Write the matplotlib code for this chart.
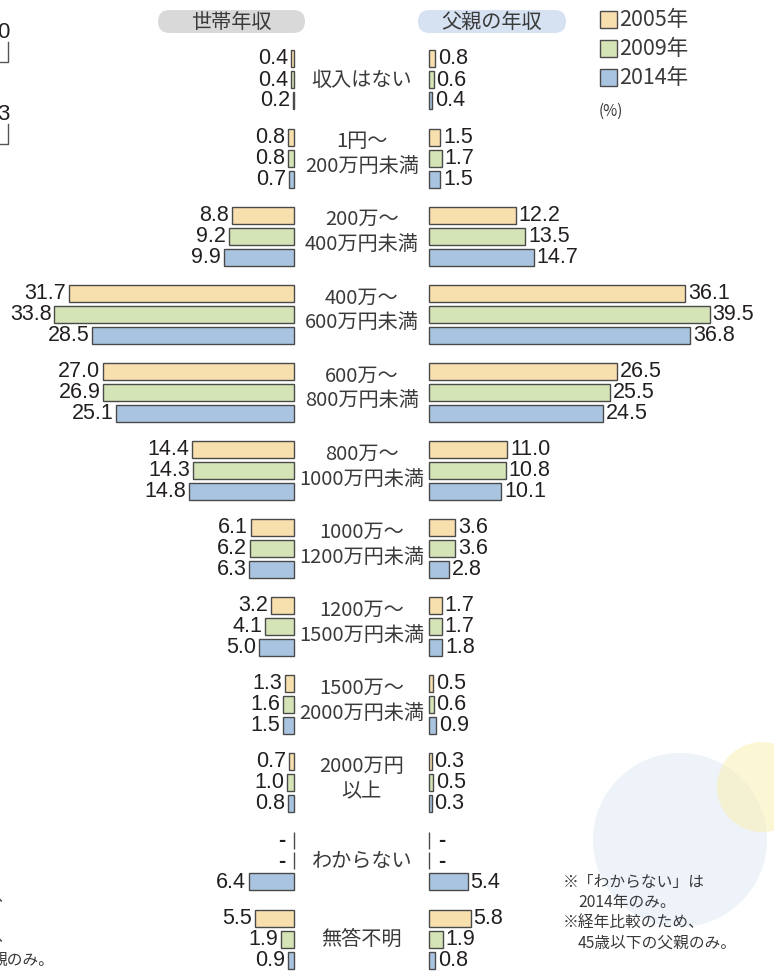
import matplotlib.pyplot as plt
import matplotlib.patches as mpatches
import numpy as np

# データ (%)
categories = ['収入はない', '1円～\n200万円未満', '200万～\n400万円未満', '400万～\n600万円未満',
              '600万～\n800万円未満', '800万～\n1000万円未満', '1000万～\n1200万円未満',
              '1200万～\n1500万円未満', '1500万～\n2000万円未満', '2000万円\n以上',
              'わからない', '無答不明']
years = ['2005年', '2009年', '2014年']

household_2005 = [0.4, 0.8, 8.8, 31.7, 27.0, 14.4, 6.1, 3.2, 1.3, 0.7, None, 5.5]
household_2009 = [0.4, 0.8, 9.2, 33.8, 26.9, 14.3, 6.2, 4.1, 1.6, 1.0, None, 1.9]
household_2014 = [0.2, 0.7, 9.9, 28.5, 25.1, 14.8, 6.3, 5.0, 1.5, 0.8, 6.4, 0.9]

father_2005 = [0.8, 1.5, 12.2, 36.1, 26.5, 11.0, 3.6, 1.7, 0.5, 0.3, None, 5.8]
father_2009 = [0.6, 1.7, 13.5, 39.5, 25.5, 10.8, 3.6, 1.7, 0.6, 0.5, None, 1.9]
father_2014 = [0.4, 1.5, 14.7, 36.8, 24.5, 10.1, 2.8, 1.8, 0.9, 0.3, 5.4, 0.8]

colors = ['#f8dfae', '#d5e4b6', '#a9c4e1']
edge = '#4a4a4a'
txt = '#231f20'
gray_txt = '#3a3a3a'

W, H = 774, 972
fig = plt.figure(figsize=(W / 100, H / 100), dpi=100)

num_font = ['Liberation Sans Narrow', 'Liberation Sans', 'DejaVu Sans']
jp_font = ['Noto Sans CJK JP', 'DejaVu Sans']

# 背景(ピクセル座標)
bg = fig.add_axes([0, 0, 1, 1], zorder=0)
bg.set_xlim(0, W)
bg.set_ylim(H, 0)
bg.axis('off')
bg.add_patch(mpatches.Circle((680, 840), 87, color='#eef3fa', lw=0))
bg.add_patch(mpatches.Circle((762, 787), 45, color='#f9f0b8', alpha=0.6, lw=0))

# 見出し
for x0, x1, label, fc in [(147, 316, '世帯年収', '#d9d9da'), (407, 577, '父親の年収', '#d6e2f1')]:
    bg.add_patch(mpatches.FancyBboxPatch((x0 + 11, 10), x1 - x0 - 22, 23,
                                         boxstyle='round,pad=0,rounding_size=11.5',
                                         fc=fc, ec='none', mutation_aspect=1))
    bg.text((x0 + x1) / 2, 22, label, ha='center', va='center', fontsize=14.5,
            family=jp_font, color=gray_txt)

# 凡例
for i, (yr, c) in enumerate(zip(years, colors)):
    y = 19 + i * 29
    bg.add_patch(mpatches.Rectangle((600, y - 8), 17, 17, fc=c, ec=edge, lw=1))
    bg.text(619, y + 1, yr, ha='left', va='center', fontsize=15.5,
            family=jp_font, color=gray_txt)
bg.text(599, 111, '(%)', ha='left', va='center', fontsize=11,
        family=jp_font, color=gray_txt)

# 注記
notes = [(563, 882, '※「わからない」は'), (578, 902, '2014年のみ。'),
         (563, 922, '※経年比較のため、'), (578, 943, '45歳以下の父親のみ。')]
for x, y, s in notes:
    bg.text(x, y, s, ha='left', va='center', fontsize=11.3, family=jp_font, color=gray_txt)

# 左端に切れた隣の図の断片
bg.text(9, 32, '0', ha='right', va='center', fontsize=16, family=num_font, color=txt)
bg.text(9, 114, '3', ha='right', va='center', fontsize=16, family=num_font, color=txt)
for y0 in (42, 124):
    bg.plot([8, 8, 0], [y0, y0 + 20, y0 + 20], color='#555555', lw=1)
bg.text(-4, 897, '、', ha='left', va='center', fontsize=11.3, family=jp_font, color=gray_txt)
bg.text(-4, 937, '、', ha='left', va='center', fontsize=11.3, family=jp_font, color=gray_txt)
bg.text(-8, 960, '親のみ。', ha='left', va='center', fontsize=11.3, family=jp_font, color=gray_txt)

# 棒グラフ
px_per_unit = 7.09
zero_left, zero_right = 294, 429.5
top_px, pitch_px = 80, 78.1
ylim = ((H - top_px) / pitch_px, -top_px / pitch_px)
offset = 21 / pitch_px
height = 17 / pitch_px

ax_l = fig.add_axes([0, 0, zero_left / W, 1], zorder=2)
ax_r = fig.add_axes([zero_right / W, 0, (W - zero_right) / W, 1], zorder=2)
ax_m = fig.add_axes([zero_left / W, 0, (zero_right - zero_left) / W, 1], zorder=2)
ax_l.set_xlim(zero_left / px_per_unit, 0)
ax_r.set_xlim(0, (W - zero_right) / px_per_unit)
for ax in (ax_l, ax_r, ax_m):
    ax.set_ylim(*ylim)
    ax.axis('off')
    ax.patch.set_visible(False)

y = np.arange(len(categories))
for ax, series, sign in [(ax_l, [household_2005, household_2009, household_2014], -1),
                         (ax_r, [father_2005, father_2009, father_2014], 1)]:
    for k, (vals, c) in enumerate(zip(series, colors)):
        w = [0 if v is None else v for v in vals]
        ax.barh(y + (k - 1) * offset, w, height=height, color=c, edgecolor=edge,
                linewidth=1, clip_on=False)
        for yi, v in zip(y, vals):
            lab = '-' if v is None else f'{v:.1f}'
            ax.annotate(lab, (0 if v is None else v, yi + (k - 1) * offset),
                        xytext=(sign * (6 if v is None else 2), 0), textcoords='offset points',
                        ha='left' if sign > 0 else 'right', va='center',
                        fontsize=15.5, family=num_font, color=txt,
                        weight='bold' if v is None else 'normal', annotation_clip=False)

for yi, cat in zip(y, categories):
    dy = -0.05 if '\n' in cat else 0
    ax_m.text(0.5, yi + dy, cat, transform=ax_m.get_yaxis_transform(), ha='center',
              va='center', fontsize=14.5, family=jp_font, color=gray_txt, linespacing=1.25)

fig.savefig('out.png', dpi=100)
